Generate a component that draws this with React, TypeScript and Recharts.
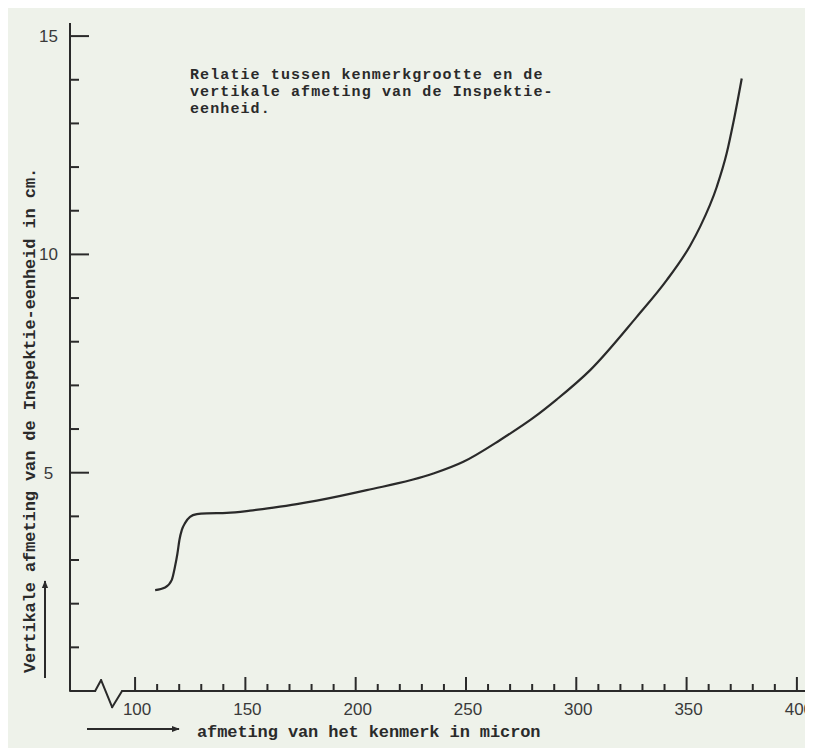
import React from 'react';
import { LineChart, Line, XAxis, YAxis, ReferenceLine } from 'recharts';

// ---- data ----
const sizeMicron = [
  109.1, 113.6, 116.6, 118.1, 119.2, 120.1, 121.2, 122.7, 124.9, 128.0,
  132.5, 141.6, 152.1, 162.7, 173.3, 182.4, 205.0, 235.2, 248.8, 265.5,
  280.6, 291.2, 306.3, 327.4, 341.0, 351.6, 356.1, 363.7, 368.2, 371.2, 375.0,
];
const heightCm = [
  2.31, 2.37, 2.54, 2.85, 3.15, 3.46, 3.69, 3.85, 3.99, 4.05,
  4.07, 4.08, 4.13, 4.20, 4.28, 4.36, 4.60, 4.98, 5.25, 5.75,
  6.26, 6.68, 7.35, 8.57, 9.41, 10.20, 10.63, 11.55, 12.32, 13.02, 14.03,
];
const xTicks = [
  100, 110, 120, 130, 140, 150, 160, 170, 180, 190, 200, 210, 220, 230, 240,
  250, 260, 270, 280, 290, 300, 310, 320, 330, 340, 350, 360, 370, 380, 390, 400,
];
const xMajorTicks = [100, 150, 200, 250, 300, 350, 400];
const yTicks = [1, 2, 3, 4, 5, 6, 7, 8, 9, 10, 11, 12, 13, 14, 15];
const yMajorTicks = [5, 10, 15];
const xDomain = [70.5, 407.3];
const yDomain = [0, 15.3];
// axis break symbol on the x axis (data units)
const breakX = [70.5, 81.9, 84.6, 89.6, 94.1, 407.3];
const breakY = [0, 0, 0.25, -0.37, 0, 0];

const titleLines = [
  'Relatie tussen kenmerkgrootte en de',
  'vertikale afmeting van de Inspektie-',
  'eenheid.',
];
const xLabel = 'afmeting van het kenmerk in micron';
const yLabel = 'Vertikale afmeting van de Inspektie-eenheid in cm.';

const data = sizeMicron.map((x, i) => ({ x, y: heightCm[i] }));

const INK = '#2a2a2a';
const NUM = '#3a3a3a';
const BG = '#eef2ea';
const MONO = '"Liberation Mono", "Courier New", monospace';
const SANS = '"Liberation Sans", Arial, sans-serif';

const XTick = (props: any) => {
  const { x, y, payload } = props;
  const major = xMajorTicks.includes(payload.value);
  return (
    <g>
      <line x1={x} x2={x} y1={y} y2={y - (major ? 14 : 7)} stroke={INK} strokeWidth={2} />
      {major && (
        <text x={x + 2} y={y + 24} textAnchor="middle" fontFamily={SANS} fontSize={17} fill={NUM}>
          {payload.value}
        </text>
      )}
    </g>
  );
};

const YTick = (props: any) => {
  const { x, y, payload } = props;
  const major = yMajorTicks.includes(payload.value);
  return (
    <g>
      <line x1={x} x2={x + (major ? 19 : 9)} y1={y} y2={y} stroke={INK} strokeWidth={2} />
      {major && (
        <text x={x - 21.5} y={y + 6} textAnchor="middle" fontFamily={SANS} fontSize={17} fill={NUM}>
          {payload.value}
        </text>
      )}
    </g>
  );
};

export default function App() {
  const W = 805;
  const H = 740;
  const segs = breakX.slice(0, -1).map((bx, i) => [
    { x: bx, y: breakY[i] },
    { x: breakX[i + 1], y: breakY[i + 1] },
  ]);
  return (
    <div style={{ position: 'relative', width: W, height: H, background: BG }}>
      <LineChart width={W} height={H} data={data} margin={{ top: 15, right: 0, bottom: 0, left: 0 }}>
        <XAxis
          dataKey="x"
          type="number"
          domain={xDomain}
          ticks={xTicks}
          interval={0}
          allowDataOverflow
          tick={(p: any) => <XTick {...p} />}
          tickLine={false}
          axisLine={false}
          tickSize={0}
          tickMargin={0}
          height={57}
        />
        <YAxis
          type="number"
          domain={yDomain}
          ticks={yTicks}
          interval={0}
          allowDataOverflow
          tick={(p: any) => <YTick {...p} />}
          tickLine={false}
          axisLine={{ stroke: INK, strokeWidth: 2 }}
          tickSize={0}
          tickMargin={0}
          width={62}
        />
        {segs.map((s, i) => (
          <ReferenceLine
            key={i}
            segment={s}
            ifOverflow="visible"
            stroke={INK}
            strokeWidth={2}
            strokeLinecap="round"
          />
        ))}
        <Line
          type="monotone"
          dataKey="y"
          stroke={INK}
          strokeWidth={2.2}
          dot={false}
          isAnimationActive={false}
        />
      </LineChart>
      <svg
        width={W}
        height={H}
        style={{ position: 'absolute', left: 0, top: 0, pointerEvents: 'none' }}
      >
        <defs>
          <marker id="ah" viewBox="0 0 10 10" refX="9" refY="5" markerWidth="4" markerHeight="4" orient="auto">
            <path d="M0,1 L10,5 L0,9 z" fill={INK} />
          </marker>
        </defs>
        {titleLines.map((t, i) => (
          <text
            key={i}
            x={182}
            y={70.5 + i * 17}
            fontFamily={MONO}
            fontWeight="bold"
            fontSize={15}
            letterSpacing={1.1}
            fill={INK}
          >
            {t}
          </text>
        ))}
        <text
          x={27}
          y={665}
          transform="rotate(-90, 27, 665)"
          fontFamily={MONO}
          fontWeight="bold"
          fontSize={17}
          letterSpacing={-0.1}
          fill={INK}
        >
          {yLabel}
        </text>
        <text x={189} y={729} fontFamily={MONO} fontWeight="bold" fontSize={17} letterSpacing={-0.1} fill={INK}>
          {xLabel}
        </text>
        <line x1={37} y1={670} x2={37} y2={573} stroke={INK} strokeWidth={2} markerEnd="url(#ah)" />
        <line x1={79} y1={721} x2={171} y2={721} stroke={INK} strokeWidth={2} markerEnd="url(#ah)" />
      </svg>
    </div>
  );
}
